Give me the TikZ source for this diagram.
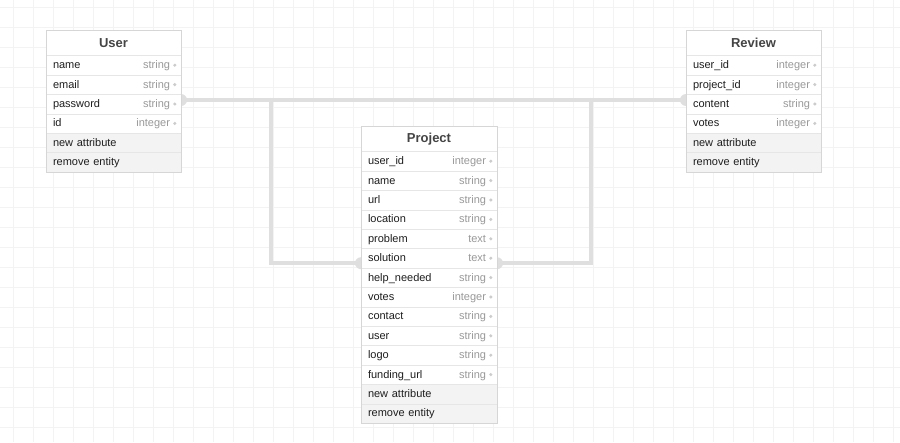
\documentclass[tikz,border=0pt]{standalone}
\usepackage{fontspec}
\setmainfont{Liberation Sans}
\usepackage{xcolor}
\usetikzlibrary{positioning}

\definecolor{gridGray}{HTML}{F3F3F3}
\definecolor{sepGray}{HTML}{E6E6E6}
\definecolor{frameGray}{HTML}{D6D6D6}
\definecolor{actionGray}{HTML}{F3F3F3}
\definecolor{textDark}{HTML}{1E1E1E}
\definecolor{headGray}{HTML}{444444}
\definecolor{typeGray}{HTML}{999999}
\definecolor{dotGray}{HTML}{CCCCCC}
\definecolor{wireGray}{HTML}{DFDFDF}

\pgfdeclarelayer{background}
\pgfdeclarelayer{wires}
\pgfsetlayers{background,wires,main}

\begin{document}
\begin{tikzpicture}[x = 1pt, y = -1pt,
		tablehead/.style = {draw = sepGray, fill = white, outer sep = 0pt, inner sep = 0pt,
			minimum width = 135pt, minimum height = 25.5pt,
			font = \bfseries\fontsize{13}{15}\selectfont, text = headGray},
		attr/.style = {draw = sepGray, fill = white, outer sep = 0pt, inner ysep = 0pt, inner xsep = 7pt,
			minimum width = 135pt, text width = 121pt, minimum height = 19.4pt, align = left,
			text height = 9.5pt, text depth = 2.5pt,
			font = \fontsize{11}{13}\selectfont, text = textDark},
		action/.style = {attr, fill = actionGray},
		typetext/.style = {inner sep = 0pt, outer sep = 0pt, text height = 9.5pt, text depth = 2.5pt,
			font = \fontsize{11}{13}\selectfont, text = typeGray},
		dot/.style = {circle, fill = dotGray, inner sep = 0pt, outer sep = 0pt, minimum size = 3.4pt},
		wire/.style = {draw = wireGray, line width = 4.5pt},
		knob/.style = {fill = wireGray},
		gridline/.style = {draw = gridGray, line width = 0.6pt}]
					\def\W{900};
					\def\H{442};

					\useasboundingbox (0,0) rectangle (\W,\H);

					% grid paper
					\begin{pgfonlayer}{background}
						\fill [white] (0,0) rectangle (\W,\H);
						\foreach \gx in {13,33,...,893}
							\draw [gridline] (\gx,0) -- (\gx,\H);
						\foreach \gy in {7,27,...,427}
							\draw [gridline] (0,\gy) -- (\W,\gy);
					\end{pgfonlayer}

					% User
					\node [tablehead, anchor = north west] (user-0) at (46,30) {User};
					\foreach \lbl/\typ [count = \i, remember = \i as \j (initially 0)] in {name/string, email/string, password/string, id/integer} {
						\node [attr, below = 0pt of user-\j] (user-\i) {\lbl};
						\node [typetext, left = 11pt of user-\i.east] (user-\i-type) {\typ};
						\node [dot, left = 4.5pt of user-\i.east] (user-\i-dot) {};
					}
					\node [action, below = 0pt of user-4] (user-5) {new attribute};
					\node [action, below = 0pt of user-5] (user-6) {remove entity};
					\draw [frameGray] (user-0.north west) rectangle (user-6.south east);

					% Project
					\node [tablehead, minimum width = 136pt, anchor = north west] (project-0) at (361,126) {Project};
					\foreach \lbl/\typ [count = \i, remember = \i as \j (initially 0)] in {user\_id/integer, name/string, url/string, location/string, problem/text, solution/text, help\_needed/string, votes/integer, contact/string, user/string, logo/string, funding\_url/string} {
						\node [attr, text width = 122pt, below = 0pt of project-\j] (project-\i) {\lbl};
						\node [typetext, left = 11pt of project-\i.east] (project-\i-type) {\typ};
						\node [dot, left = 4.5pt of project-\i.east] (project-\i-dot) {};
					}
					\node [action, text width = 122pt, below = 0pt of project-12] (project-13) {new attribute};
					\node [action, text width = 122pt, below = 0pt of project-13] (project-14) {remove entity};
					\draw [frameGray] (project-0.north west) rectangle (project-14.south east);

					% Review
					\node [tablehead, anchor = north west] (review-0) at (686,30) {Review};
					\foreach \lbl/\typ [count = \i, remember = \i as \j (initially 0)] in {user\_id/integer, project\_id/integer, content/string, votes/integer} {
						\node [attr, below = 0pt of review-\j] (review-\i) {\lbl};
						\node [typetext, left = 11pt of review-\i.east] (review-\i-type) {\typ};
						\node [dot, left = 4.5pt of review-\i.east] (review-\i-dot) {};
					}
					\node [action, below = 0pt of review-4] (review-5) {new attribute};
					\node [action, below = 0pt of review-5] (review-6) {remove entity};
					\draw [frameGray] (review-0.north west) rectangle (review-6.south east);

					% relations
					\coordinate (user-knob) at ([yshift = 4pt]user-3.east);
					\coordinate (review-knob) at ([yshift = 4pt]review-3.west);
					\coordinate (project-knob-l) at ([yshift = -5pt]project-6.west);
					\coordinate (project-knob-r) at ([yshift = -5pt]project-6.east);

					\begin{pgfonlayer}{wires}
						\draw [wire] (user-knob) -- (review-knob);
						\draw [wire] (user-knob) -| ([xshift = -90pt]project-knob-l) -- (project-knob-l);
						\draw [wire] (review-knob) -| ([xshift = 94pt]project-knob-r) -- (project-knob-r);

						\foreach \k in {user-knob, review-knob, project-knob-l, project-knob-r}
							\fill [knob] (\k) circle (6pt);
					\end{pgfonlayer}
				\end{tikzpicture}
\end{document}
